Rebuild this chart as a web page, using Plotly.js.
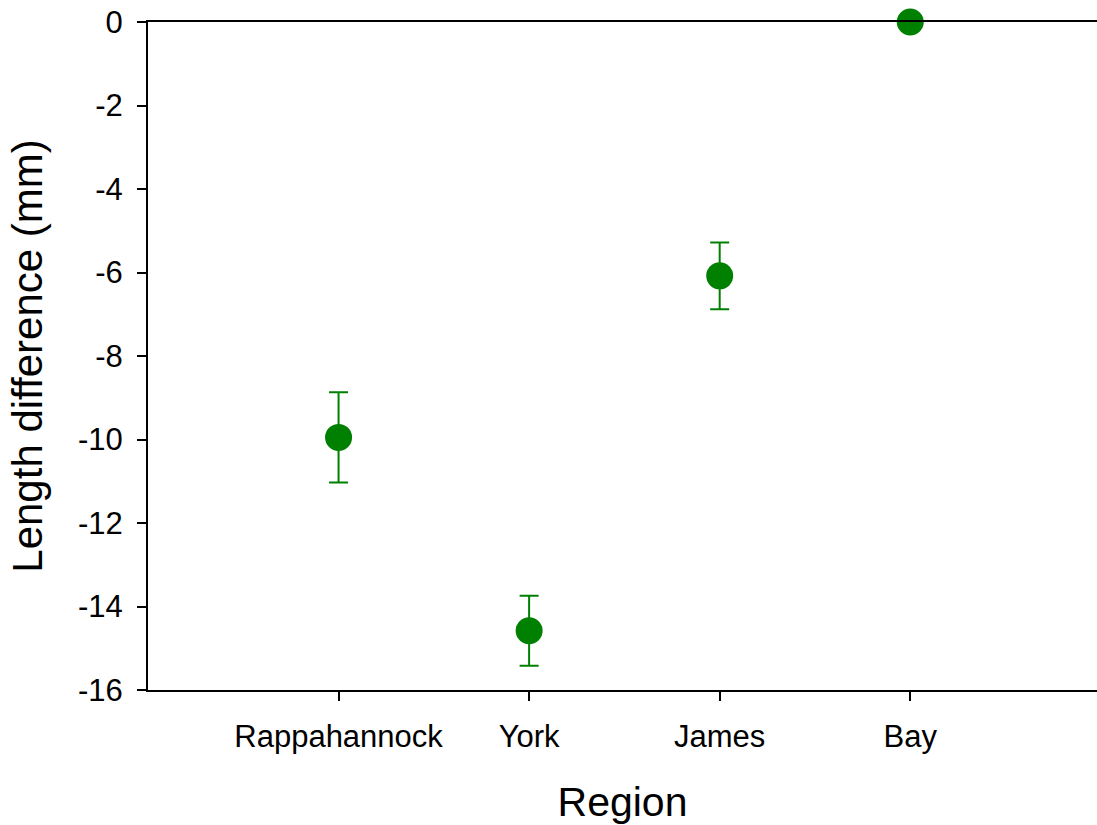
<!DOCTYPE html>
<html>
<head>
<meta charset="utf-8">
<script src="https://cdn.plot.ly/plotly-3.0.1.min.js"></script>
<style>html,body{margin:0;padding:0;background:#fff;}#chart{width:1097px;height:825px;}</style>
</head>
<body>
<div id="chart"></div>
<script>
const regions = ["Rappahannock", "York", "James", "Bay"];
const lengthDiff = [-9.95, -14.58, -6.08, 0];
const errorVals = [1.08, 0.84, 0.80, 0];
const yTickVals = [0, -2, -4, -6, -8, -10, -12, -14, -16];
const yTickText = ["0", "-2", "-4", "-6", "-8", "-10", "-12", "-14", "-16"];

const trace = {
  type: "scatter",
  mode: "markers",
  x: regions,
  y: lengthDiff,
  marker: {color: "#008000", size: 27},
  error_y: {type: "data", array: errorVals, visible: true, color: "#008000", thickness: 2, width: 9.5},
  cliponaxis: false,
  hoverinfo: "none"
};

const layout = {
  width: 1097, height: 825,
  margin: {l: 148, r: 0, t: 22, b: 135},
  paper_bgcolor: "#fff", plot_bgcolor: "#fff",
  showlegend: false,
  font: {family: "Liberation Sans, Arial, sans-serif", color: "#000"},
  xaxis: {
    type: "category",
    range: [-1, 3.98],
    showline: true, linecolor: "#000", linewidth: 2, mirror: true,
    ticks: "outside", ticklen: 9, tickwidth: 2, tickcolor: "#000",
    showgrid: false, zeroline: false,
    tickfont: {size: 31},
    ticklabelstandoff: 9,
    title: {text: "Region", font: {size: 41}, standoff: 34}
  },
  yaxis: {
    range: [-16, 0],
    tickvals: yTickVals,
    ticktext: yTickText,
    showline: true, linecolor: "#000", linewidth: 2,
    ticks: "outside", ticklen: 9, tickwidth: 2, tickcolor: "#000",
    showgrid: false, zeroline: false,
    tickfont: {size: 31},
    ticklabelstandoff: 8,
    title: {text: "Length difference (mm)", font: {size: 42}, standoff: 22}
  }
};

Plotly.newPlot("chart", [trace], layout, {staticPlot: true, displayModeBar: false});
</script>
</body>
</html>
